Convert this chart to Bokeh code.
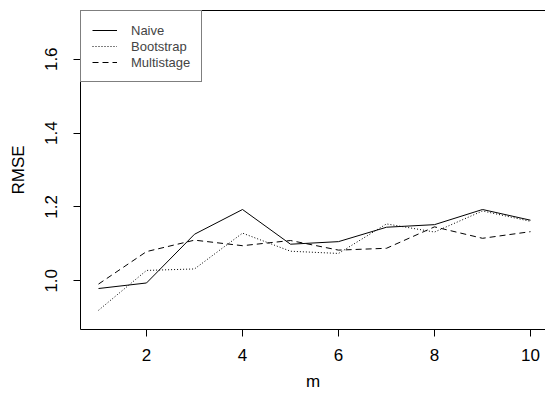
from bokeh.plotting import figure
from bokeh.models import Range1d, FixedTicker, Legend, LegendItem, LinearAxis, NumeralTickFormatter, Title
from bokeh.embed import file_html
from bokeh.resources import INLINE

m = [1, 2, 3, 4, 5, 6, 7, 8, 9, 10]
naive = [0.979, 0.994, 1.126, 1.193, 1.099, 1.106, 1.145, 1.152, 1.193, 1.164]
bootstrap = [0.920, 1.028, 1.032, 1.129, 1.080, 1.074, 1.154, 1.132, 1.189, 1.161]
multistage = [0.991, 1.079, 1.110, 1.095, 1.109, 1.083, 1.088, 1.146, 1.115, 1.133]
x_ticks = [2, 4, 6, 8, 10]
y_ticks = [1.0, 1.2, 1.4, 1.6]
labels = ["Naive", "Bootstrap", "Multistage"]
x_title = "m"
y_title = "RMSE"

FONT = "Liberation Sans"

p = figure(width=545, height=401, output_backend="svg", toolbar_location=None,
           x_range=Range1d(0.625, 10.3125), y_range=Range1d(0.868, 1.732),
           min_border_left=80, min_border_right=0, min_border_top=10, min_border_bottom=72,
           y_axis_label=y_title)
p.outline_line_color = None
p.grid.visible = False
p.background_fill_color = "white"
p.border_fill_color = "white"

for ax in (p.xaxis[0], p.yaxis[0]):
    ax.minor_tick_line_color = None
    ax.major_tick_out = 7
    ax.major_tick_in = 0
    ax.axis_line_color = "black"
    ax.major_tick_line_color = "black"
    ax.major_label_text_font = FONT
    ax.major_label_text_font_size = "17px"
    ax.major_label_text_color = "black"
    ax.axis_label_text_font = FONT
    ax.axis_label_text_font_size = "17px"
    ax.axis_label_text_font_style = "normal"
    ax.axis_label_text_color = "black"

p.xaxis.ticker = FixedTicker(ticks=x_ticks)
p.yaxis.ticker = FixedTicker(ticks=y_ticks)
p.yaxis.formatter = NumeralTickFormatter(format="0.0")
p.yaxis.major_label_orientation = "vertical"
p.xaxis.major_label_standoff = 12
p.yaxis.major_label_standoff = 16
p.yaxis.axis_label_standoff = 15

top = LinearAxis(ticker=FixedTicker(ticks=[]), major_tick_out=0, major_tick_in=0,
                 minor_tick_line_color=None, major_label_text_font_size="0px",
                 axis_line_color="black")
p.add_layout(top, "above")

p.add_layout(Title(text=x_title, align="center", text_font=FONT, text_font_size="17px",
                   text_font_style="normal", text_color="black", standoff=12), "below")

r1 = p.line(m, naive, line_color="black", line_width=1)
r2 = p.line(m, bootstrap, line_color="black", line_width=1, line_dash="1 2")
r3 = p.line(m, multistage, line_color="black", line_width=1, line_dash="6 4")

legend = Legend(items=[LegendItem(label=labels[0], renderers=[r1]),
                       LegendItem(label=labels[1], renderers=[r2]),
                       LegendItem(label=labels[2], renderers=[r3])],
                location="top_left", margin=0, padding=11, spacing=0,
                glyph_width=25, glyph_height=16, label_height=16, label_standoff=14,
                label_text_font=FONT, label_text_font_size="13px",
                border_line_color="black", border_line_width=1,
                background_fill_color="white", background_fill_alpha=1)
p.add_layout(legend)

open("out.html", "w").write(file_html(p, INLINE))
